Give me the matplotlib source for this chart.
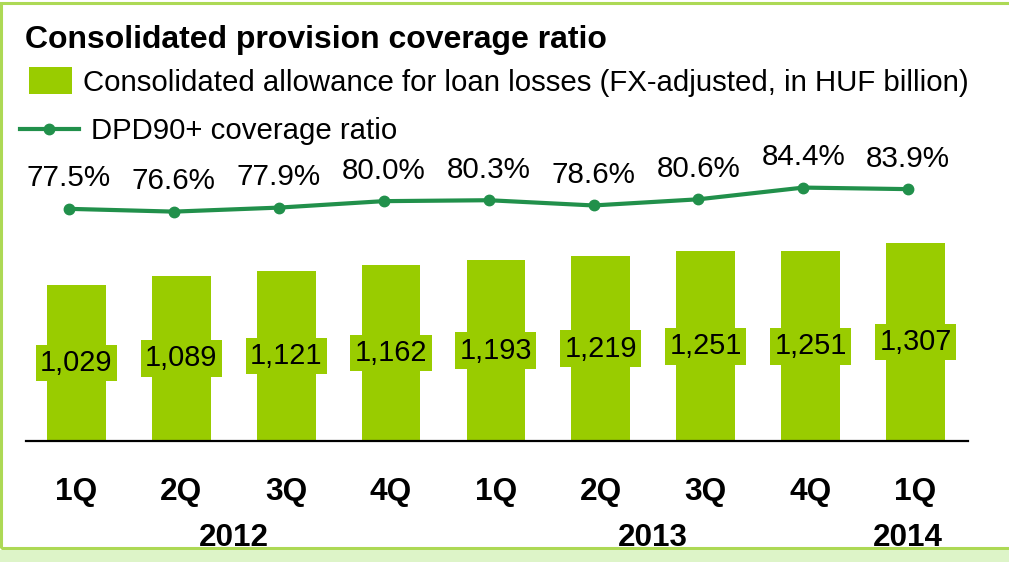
import numpy as np
import matplotlib
matplotlib.use("Agg")
import matplotlib.pyplot as plt
from matplotlib.patches import Rectangle
from matplotlib.transforms import blended_transform_factory

plt.rcParams['font.family'] = ['Liberation Sans', 'DejaVu Sans']

# Data
quarters = ["1Q", "2Q", "3Q", "4Q", "1Q", "2Q", "3Q", "4Q", "1Q"]
years = ["2012", "2013", "2014"]
year_pos = [1.5, 5.5, 7.93]
allowance = [1029, 1089, 1121, 1162, 1193, 1219, 1251, 1251, 1307]
coverage = [77.5, 76.6, 77.9, 80.0, 80.3, 78.6, 80.6, 84.4, 83.9]

BAR_GREEN = "#99CC00"
LINE_GREEN = "#21904B"

W, H = 1009, 562
fig = plt.figure(figsize=(W / 100, H / 100), dpi=100)

# Frame: thin light green border and pale strip at the bottom
fig.add_artist(Rectangle((1 / W, 1 - 548 / H), 1.2, (548 - 3) / H, transform=fig.transFigure,
                         fill=False, ec="#ADD955", lw=2.2))
fig.add_artist(Rectangle((0, 0), 1, (H - 550) / H, transform=fig.transFigure,
                         fc="#DDF4C8", ec="none"))

left, right, bottom, top = 26 / W, 968 / W, 1 - 441 / H, 1 - 150 / H
ax = fig.add_axes([left, bottom, right - left, top - bottom])
x = np.arange(len(allowance))

bars = ax.bar(x, allowance, width=0.56, color=BAR_GREEN, zorder=2)
ax.set_xlim(-0.48, len(x) - 0.5)
ax.set_ylim(0, 1920)
for xi, v in zip(x, allowance):
    ax.text(xi, v / 2, f"{v:,}", ha="center", va="center", fontsize=20.8,
            bbox=dict(boxstyle="square,pad=0.15", fc=BAR_GREEN, ec="none"), zorder=3)

for s in ["top", "right", "left"]:
    ax.spines[s].set_visible(False)
ax.spines["bottom"].set_linewidth(1.6)
ax.set_yticks([])
ax.set_xticks(x)
ax.set_xticklabels(quarters, fontsize=22.8, fontweight="bold")
ax.tick_params(axis="x", length=0, pad=26)

trans = blended_transform_factory(ax.transData, ax.transAxes)
for yr, p in zip(years, year_pos):
    ax.text(p, -0.333, yr, transform=trans, ha="center", va="center",
            fontsize=22.6, fontweight="bold")

# Coverage ratio line on its own scale
ax2 = ax.twinx()
ax2.set_ylim(2.15, 96.6)
ax2.axis("off")
line, = ax2.plot(x - 0.07, coverage, color=LINE_GREEN, lw=3.0, marker="o",
                 markersize=7.5, zorder=4)
for xi, c in zip(x - 0.07, coverage):
    ax2.annotate(f"{c:.1f}%", (xi, c), xytext=(0, 22), textcoords="offset points",
                 ha="center", va="center", fontsize=21.3)

fig.text(25 / W, 1 - 40 / H, "Consolidated provision coverage ratio",
         fontsize=23, fontweight="bold", va="center", ha="left")

fig.legend([bars], ["Consolidated allowance for loan losses (FX-adjusted, in HUF billion)"],
           loc="center left", bbox_to_anchor=(29 / W, 1 - 82 / H), frameon=False,
           fontsize=21.2, handlelength=1.45, handleheight=1.05, handletextpad=0.38,
           borderpad=0, borderaxespad=0)
fig.legend([line], ["DPD90+ coverage ratio"],
           loc="center left", bbox_to_anchor=(20 / W, 1 - 131 / H), frameon=False,
           fontsize=21.2, handlelength=2.0, handletextpad=0.42,
           borderpad=0, borderaxespad=0)

fig.savefig("out.png", dpi=100)
